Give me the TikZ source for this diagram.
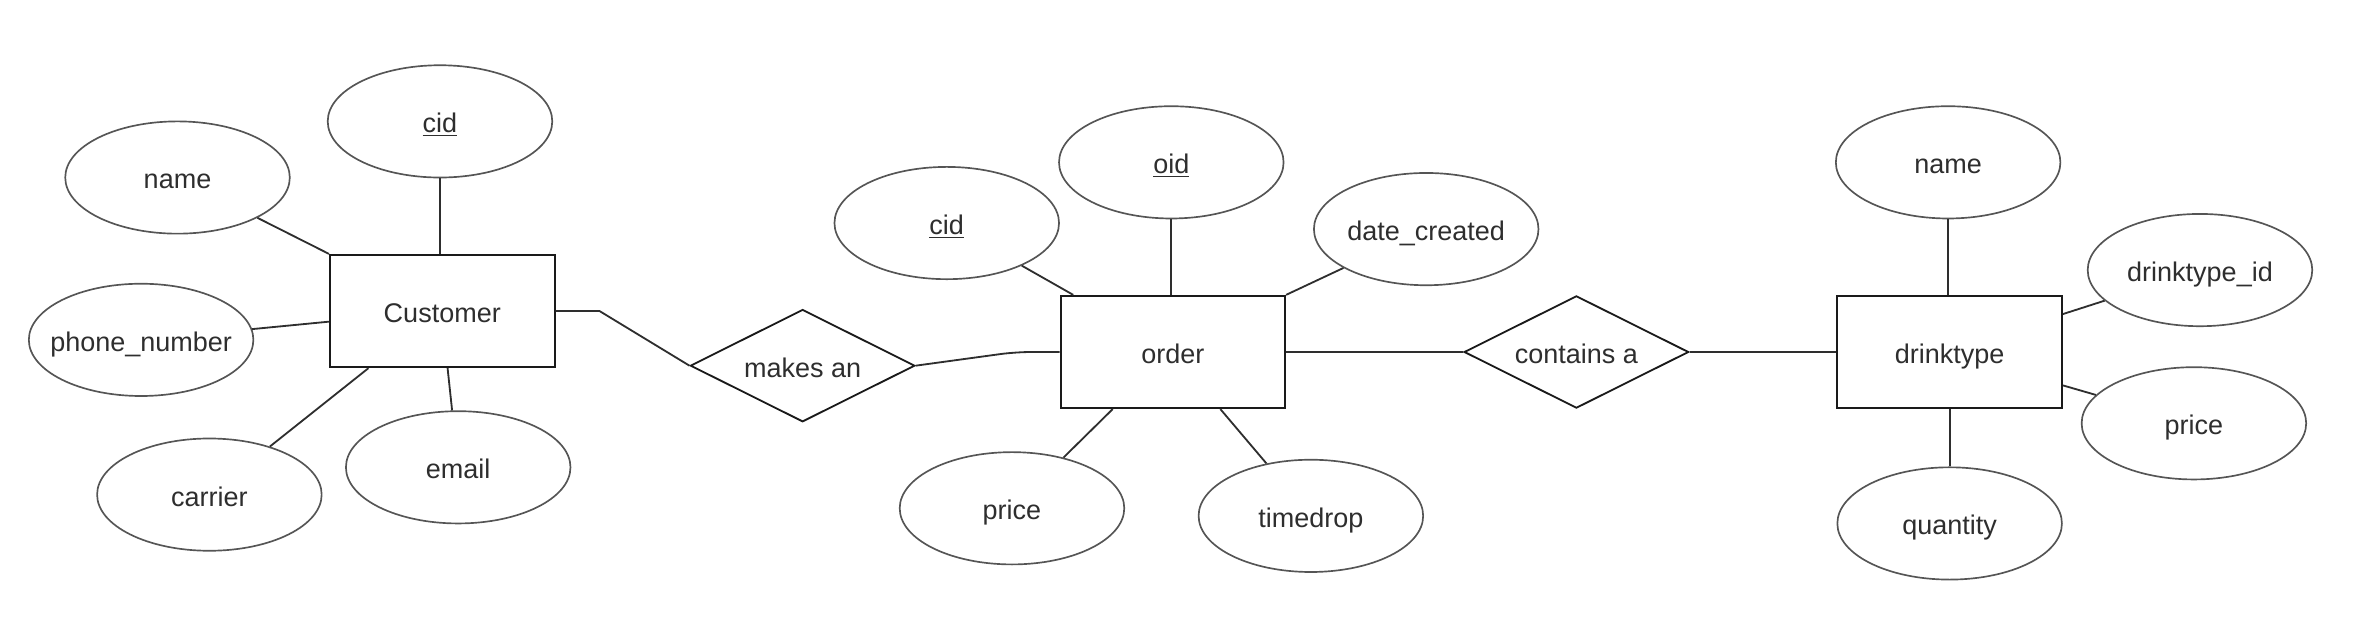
\documentclass[tikz,border=0pt]{standalone}
\usepackage{fontspec}
\setmainfont{Liberation Sans}
\usetikzlibrary{shapes.geometric,calc}
\definecolor{txt}{HTML}{2E2E2E}
\definecolor{elline}{HTML}{555555}
\definecolor{entline}{HTML}{1A1A1A}
\definecolor{connline}{HTML}{2E2E2E}
\newcommand{\lbtext}[1]{\makebox[0pt]{#1}}
\begin{document}
\begin{tikzpicture}[x=1pt,y=-1pt,
  lbl/.style={text=txt, font=\fontsize{17.8}{21}\selectfont, inner sep=0pt, text height=15pt, text depth=0pt},
  attr/.style={lbl, ellipse, draw=elline, line width=1.1pt, minimum width=148pt, minimum height=74pt},
  ent/.style={lbl, rectangle, draw=entline, line width=1.3pt, minimum width=148pt, minimum height=74pt},
  rel/.style={lbl, diamond, draw=entline, line width=1.2pt, minimum width=148pt, minimum height=74pt},
  conn/.style={draw=connline, line width=1.2pt}]
\useasboundingbox (0,0) rectangle (1568,416);
% Customer
\node[attr] (ccid) at (290,80) {\lbtext{\underline{cid}}};
\node[attr] (cname) at (117,117) {\lbtext{name}};
\node[ent] (cust) at (291.5,205) {\lbtext{Customer}};
\node[attr] (cphone) at (93,224) {\lbtext{phone\_number}};
\node[attr] (ccarrier) at (138,326) {\lbtext{carrier}};
\node[attr] (cemail) at (302,308) {\lbtext{email}};
% relationship
\node[rel] (makes) at (529,241) {\lbtext{makes an}};
% order
\node[ent] (order) at (773,232) {\lbtext{order}};
\node[attr] (ocid) at (624,147) {\lbtext{\underline{cid}}};
\node[attr] (ooid) at (772,107) {\lbtext{\underline{oid}}};
\node[attr] (odate) at (940,151) {\lbtext{date\_created}};
\node[attr] (oprice) at (667,335) {\lbtext{price}};
\node[attr] (otime) at (864,340) {\lbtext{timedrop}};
% relationship
\node[rel] (contains) at (1039,232) {\lbtext{contains a}};
% drinktype
\node[ent] (drink) at (1285,232) {\lbtext{drinktype}};
\node[attr] (dname) at (1284,107) {\lbtext{name}};
\node[attr] (did) at (1450,178) {\lbtext{drinktype\_id}};
\node[attr] (dprice) at (1446,279) {\lbtext{price}};
\node[attr] (dqty) at (1285,345) {\lbtext{quantity}};
% connectors
\draw[conn] (cname) -- (cust.north west);
\draw[conn] (ccid) -- (ccid |- cust.north);
\draw[conn] (cphone) -- ($(cust.west)+(0,7)$);
\draw[conn] (ccarrier) -- ($(cust.south west)+(26,0)$);
\draw[conn] (cemail) -- ($(cust.south)+(3.5,0)$);
\draw[conn] (cust.east) -- ++(29,0) -- (makes.west);
\draw[conn, rounded corners=10pt] (makes.east) -- ($(order.west)+(-29,0)$) -- (order.west);
\draw[conn] (ocid) -- ($(order.north west)+(9,0)$);
\draw[conn] (ooid) -- (ooid |- order.north);
\draw[conn] (odate) -- (order.north east);
\draw[conn] (oprice) -- ($(order.south west)+(35,0)$);
\draw[conn] (otime) -- ($(order.south west)+(106,0)$);
\draw[conn] (order.east) -- (contains.west);
\draw[conn] (contains.east) -- (drink.west);
\draw[conn] (dname) -- (dname |- drink.north);
\draw[conn] (did) -- ($(drink.east)+(0,-25)$);
\draw[conn] (dprice) -- ($(drink.east)+(0,22)$);
\draw[conn] (dqty) -- (dqty |- drink.south);
\end{tikzpicture}
\end{document}
